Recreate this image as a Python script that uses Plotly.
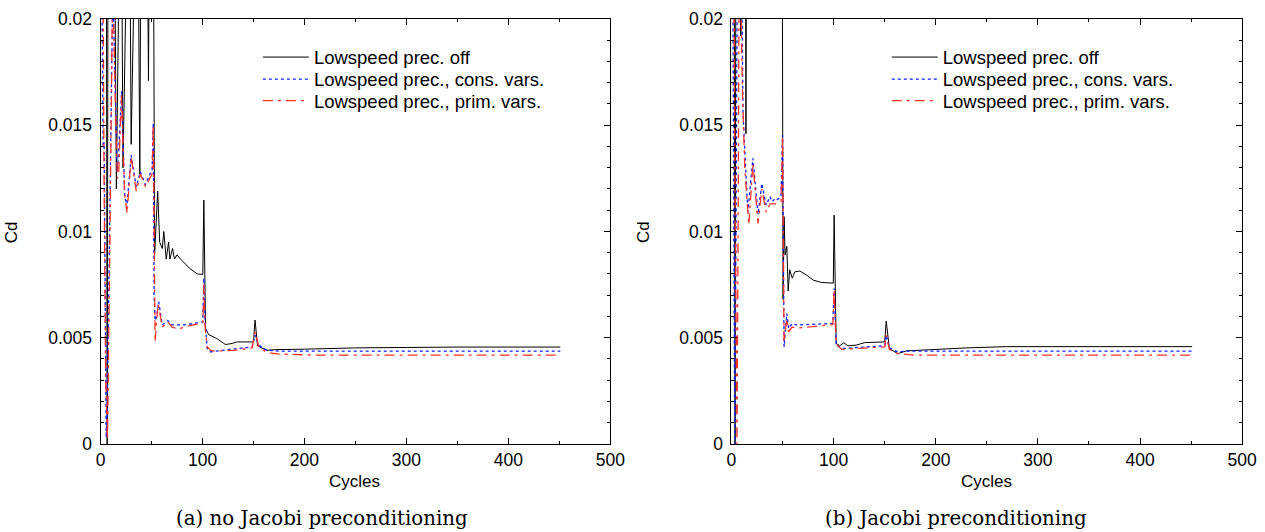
import plotly.graph_objects as go

# ---------------- data: (a) no Jacobi preconditioning ----------------
a_off_cyc = [0, 5.5, 6.5, 7.5, 10, 13, 15.5, 17, 20, 22, 24, 28, 30, 32, 36, 38.5, 40, 45, 47, 48.5, 51.5,
             52.5, 53, 56, 58, 60.5, 62, 64.4, 66.7, 68, 70.6, 72.5, 75, 78.4, 83, 88, 95, 100.3, 101.3,
             103, 106, 114, 122.5, 128, 134, 150, 151.5, 154, 163, 173, 200, 250, 300, 350, 451]
a_off_cd = [0.03, 0.03, 0.0, 0.03, 0.03, 0.03, 0.0120, 0.03, 0.03, 0.0130, 0.03, 0.03, 0.0141, 0.03, 0.03,
            0.0127, 0.03, 0.03, 0.0171, 0.03, 0.03,
            0.0093, 0.0089, 0.0119, 0.0095, 0.0092, 0.0100, 0.0087, 0.0095, 0.0087, 0.0092, 0.0087, 0.0089,
            0.0087, 0.0085, 0.00824, 0.0080, 0.00798, 0.01148,
            0.00543, 0.00515, 0.00496, 0.00468, 0.00472, 0.0048, 0.0048, 0.00583, 0.00462, 0.00441, 0.00444,
            0.00446, 0.00452, 0.00454, 0.00456, 0.00456]

a_cons_cyc = [0, 1.5, 2.5, 3.5, 4.5, 5.5, 6.5, 9, 11.7, 12.5, 14.7, 16.3, 17.5, 20.6, 23.8, 26, 30, 35, 39,
              44, 48.3, 50.5, 51.7, 52.5, 53.5, 55, 57, 60.5, 63, 66, 70, 76.8, 81.7, 91.5, 100.3, 101.3,
              102.5, 104.6, 108, 115, 130.7, 148.7, 151.6, 155, 163, 175, 451]
a_cons_cd = [0.03, 0.018, 0.014, 0.0142, 0.006, 0.0003, 0.0015, 0.0102, 0.0205, 0.0205, 0.0156, 0.0128,
             0.0135, 0.0166, 0.01156, 0.0113, 0.0136, 0.0121, 0.0128,
             0.0122, 0.0127, 0.0128, 0.0151, 0.0070, 0.0058, 0.0060, 0.0067, 0.0056, 0.0057, 0.0058, 0.0056,
             0.0056, 0.0056, 0.00567, 0.00575, 0.0078,
             0.0058, 0.00449, 0.00433, 0.00438, 0.00446, 0.00457, 0.00512, 0.00465, 0.00441, 0.00437, 0.00437]

a_prim_cyc = [0, 2, 3.5, 5, 6.8, 8, 9.5, 11.5, 12.5, 14.7, 16.5, 17.7, 20.6, 23.5, 26, 30, 35, 39, 44, 48.3,
              50.5, 51.7, 53.5, 55, 56.5, 60.5, 63, 66, 70, 76.8, 81.7, 91.5, 100.3, 101.3, 102.5, 104.6,
              108, 112, 130.7, 148.7, 151.6, 155, 163, 175, 190, 210, 450]
a_prim_cd = [0.03, 0.025, 0.012, 0.003, 0.0002, 0.004, 0.011, 0.0205, 0.0205, 0.0156, 0.0125, 0.0127,
             0.0164, 0.0118, 0.01085, 0.0135, 0.0119, 0.0127, 0.0121, 0.0125,
             0.0127, 0.0150, 0.0048, 0.0058, 0.0066, 0.0055, 0.0056, 0.00575, 0.0055, 0.0054, 0.0055,
             0.0056, 0.0057, 0.0075, 0.0055, 0.00457,
             0.0044, 0.00437, 0.0044, 0.00452, 0.00527, 0.0046, 0.0043, 0.00423, 0.00421, 0.00418, 0.00418]

# ---------------- data: (b) Jacobi preconditioning ----------------
b_off_cyc = [0, 2.5, 3.5, 4.5, 8.5, 9.2, 10, 13.5, 14.2, 15, 49.5, 50.5, 51.5, 52.5, 54.2, 55.5, 57, 59.5,
             62, 67, 73.5, 80, 88, 99.7, 100.5, 102.5, 106, 110, 114, 122, 130.5, 142, 150, 151.5, 154.6,
             162.8, 171.3, 197.4, 230, 269.3, 451]
b_off_cd = [0.03, 0.03, 0.0, 0.03, 0.03, 0.0192, 0.03, 0.03, 0.0146, 0.03, 0.03, 0.0068, 0.0107, 0.0089,
            0.0093, 0.0072, 0.0082, 0.0078,
            0.0081, 0.00814, 0.00795, 0.00771, 0.0076, 0.00757, 0.01077, 0.00473, 0.00462, 0.00476, 0.00462,
            0.00465, 0.00477, 0.0048, 0.0048, 0.00578, 0.00449,
            0.00425, 0.00438, 0.00444, 0.00452, 0.00458, 0.00458]

b_cons_cyc = [0, 1.5, 2.5, 3.2, 4, 5, 6, 8.5, 10.5, 11.3, 14, 16, 21, 26, 29.7, 34, 37.7, 40, 42.6, 45, 48.5,
              50, 51.5, 52.5, 54.2, 56, 59.4, 63.3, 73.5, 85, 99.2, 100.5, 102.5, 108, 123, 146, 150, 151.5,
              154.6, 162.8, 170, 451]
b_cons_cd = [0.03, 0.02, 0.008, 0.0, 0.006, 0.02, 0.025, 0.025, 0.02, 0.0156, 0.0125, 0.0109, 0.01344,
             0.0108, 0.01226, 0.01124, 0.01164, 0.0114, 0.01156, 0.0115, 0.01164,
             0.01454, 0.00457, 0.0052, 0.00614, 0.00543, 0.00567, 0.0056, 0.00562, 0.00565, 0.00567, 0.00732,
             0.00465, 0.00449, 0.00454, 0.00462, 0.00462, 0.00512,
             0.00452, 0.00433, 0.00437, 0.00437]

b_prim_cyc = [0, 2, 3.5, 4.5, 5.4, 6.5, 7.5, 9, 10.5, 13, 17, 21, 26, 29.7, 34, 37.7, 42.6, 48.5, 50, 51.5,
              53, 54.2, 56, 59.4, 63.3, 73.5, 85, 99.2, 100.5, 102.5, 108, 123, 146, 150, 151.5, 154.6,
              162.8, 171, 180, 450]
b_prim_cd = [0.03, 0.025, 0.012, 0.003, 0.0, 0.01, 0.022, 0.022, 0.017, 0.013, 0.0103, 0.0132, 0.01038,
             0.012, 0.0109, 0.0113, 0.0113, 0.0114, 0.0145, 0.0048,
             0.0055, 0.0059, 0.00528, 0.0055, 0.00545, 0.0055, 0.00555, 0.00562, 0.00724, 0.0047, 0.00445,
             0.0045, 0.00457, 0.00457, 0.00512, 0.00445,
             0.00425, 0.00423, 0.00418, 0.00418]

series_names = ["Lowspeed prec. off", "Lowspeed prec., cons. vars.", "Lowspeed prec., prim. vars."]
captions = ["(a) no Jacobi preconditioning", "(b) Jacobi preconditioning"]
x_title = "Cycles"
y_title = "Cd"

# ---------------- figure ----------------
W, H = 1282, 540
SANS = "Liberation Sans, Arial, Helvetica, sans-serif"
SERIF = "DejaVu Serif, serif"


# map a target position in the final picture to figure pixels (page offset + capture scale)
def fx(t):
    return (t + 2.3) / 0.983 - 8


def fy(t):
    return (t - 0.8) / 0.962 - 8


def px_x(t):
    return fx(t) / W


def px_y(t):
    return 1 - fy(t) / H


styles = [
    dict(color="black", width=1, dash="solid"),
    dict(color="#0a1eff", width=1.3, dash="dot"),
    dict(color="#ff3322", width=1.3, dash="10px,5px,3px,5px"),
]

fig = go.Figure()
panels = [
    ("x", "y", ["legend", "legend2", "legend3"],
     [(a_off_cyc, a_off_cd), (a_cons_cyc, a_cons_cd), (a_prim_cyc, a_prim_cd)]),
    ("x2", "y2", ["legend4", "legend5", "legend6"],
     [(b_off_cyc, b_off_cd), (b_cons_cyc, b_cons_cd), (b_prim_cyc, b_prim_cd)]),
]
for xa, ya, lgs, data in panels:
    for (xs, ys), name, st, lg in zip(data, series_names, styles, lgs):
        fig.add_trace(go.Scatter(x=xs, y=ys, mode="lines", name=name, line=st,
                                 xaxis=xa, yaxis=ya, legend=lg, showlegend=True))

x_dom_a = [px_x(101), px_x(610)]
x_dom_b = [px_x(731), px_x(1241)]
y_dom = [px_y(442), px_y(17.5)]

tickfont = dict(family=SANS, size=17.5, color="black")
xax = dict(range=[0, 500], dtick=100, tick0=0, ticks="inside", ticklen=6, tickcolor="black",
           minor=dict(dtick=50, ticks="inside", ticklen=3, tickcolor="black"),
           showline=True, linecolor="black", linewidth=1, mirror="ticks",
           showgrid=False, zeroline=False, tickfont=tickfont, ticklabelstandoff=0,
           ticklabeloverflow="allow")
yax = dict(range=[0, 0.02], dtick=0.005, tick0=0, ticks="inside", ticklen=6, tickcolor="black",
           minor=dict(dtick=0.001, ticks="inside", ticklen=3, tickcolor="black"),
           showline=True, linecolor="black", linewidth=1, mirror="ticks",
           showgrid=False, zeroline=False, tickfont=tickfont, ticklabelstandoff=4,
           ticklabeloverflow="allow")

ITEMW = 46
legend_common = dict(font=dict(family=SANS, size=18.5, color="black"), bgcolor="rgba(0,0,0,0)",
                     borderwidth=0, itemwidth=ITEMW, xanchor="left", yanchor="middle")

leg_rows = [56, 78, 99.5]
leg_line_start = [263, 891]
legends = {}
names = ["legend", "legend2", "legend3", "legend4", "legend5", "legend6"]
k = 0
for ls in leg_line_start:
    for ry in leg_rows:
        legends[names[k]] = dict(x=(fx(ls) - 5) / W, y=px_y(ry), **legend_common)
        k += 1

fig.update_layout(
    width=W, height=H,
    margin=dict(l=0, r=0, t=0, b=0),
    paper_bgcolor="white", plot_bgcolor="white",
    xaxis=dict(domain=x_dom_a, anchor="y", **xax),
    yaxis=dict(domain=y_dom, anchor="x", **yax),
    xaxis2=dict(domain=x_dom_b, anchor="y2", **xax),
    yaxis2=dict(domain=y_dom, anchor="x2", **yax),
    **legends,
)

annos = []
for cx, cap in zip([322, 955], captions):
    annos.append(dict(text=cap, x=px_x(cx), y=px_y(516), xref="paper", yref="paper",
                      showarrow=False, xanchor="center", yanchor="middle",
                      font=dict(family=SERIF, size=19.8, color="black")))
for cx in [355, 986]:
    annos.append(dict(text=x_title, x=px_x(cx), y=px_y(480), xref="paper", yref="paper",
                      showarrow=False, xanchor="center", yanchor="middle",
                      font=dict(family=SANS, size=17, color="black")))
for cx in [12, 643]:
    annos.append(dict(text=y_title, x=px_x(cx), y=px_y(230), xref="paper", yref="paper",
                      showarrow=False, xanchor="center", yanchor="middle", textangle=-90,
                      font=dict(family=SANS, size=17, color="black")))
fig.update_layout(annotations=annos)

fig.write_html("out.html")
